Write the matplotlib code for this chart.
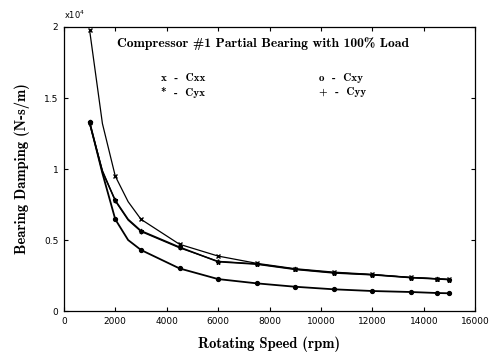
import numpy as np
import matplotlib
matplotlib.use("Agg")
import matplotlib.pyplot as plt

# rotating speed (rpm) and damping (x10^4 N-s/m)
speed = [1000, 1500, 2000, 2500, 3000, 4500, 6000, 7500, 9000, 10500, 12000, 13500, 14500, 15000]
cxx = [1.98, 1.32, 0.95, 0.77, 0.646, 0.47, 0.387, 0.336, 0.298, 0.274, 0.258, 0.237, 0.228, 0.223]
cxy = [1.33, 0.97, 0.646, 0.50, 0.43, 0.30, 0.225, 0.195, 0.171, 0.153, 0.141, 0.134, 0.127, 0.125]
cyx = [1.33, 0.98, 0.78, 0.646, 0.565, 0.45, 0.347, 0.33, 0.293, 0.268, 0.255, 0.235, 0.226, 0.221]
cyy = [1.32, 0.99, 0.775, 0.64, 0.56, 0.445, 0.35, 0.332, 0.295, 0.27, 0.256, 0.236, 0.227, 0.222]
mark_idx = [0, 2, 4, 5, 6, 7, 8, 9, 10, 11, 12, 13]

serif = {"family": "cmb10"}

fig = plt.figure(figsize=(4.95, 3.6), dpi=100)
ax = fig.add_axes([0.129, 0.136, 0.831, 0.789])

ax.plot(speed, cxx, color="black", lw=0.9, marker="x", ms=3, markevery=mark_idx)
ax.plot(speed, cxy, color="black", lw=1.3, marker="o", ms=2.8, markevery=mark_idx)
ax.plot(speed, cyx, color="black", lw=1.1, marker="*", ms=3.5, markevery=mark_idx)
ax.plot(speed, cyy, color="black", lw=0.9, marker="+", ms=3.5, markevery=mark_idx)

ax.set_xlim(0, 16000)
ax.set_ylim(0, 2)
ax.set_xticks(np.arange(0, 16001, 2000))
ax.set_yticks([0, 0.5, 1, 1.5, 2])
ax.set_yticklabels(["0", "0.5", "1", "1.5", "2"])
ax.tick_params(direction="in", top=True, right=True, labelsize=6.5, length=3, pad=4)
for s in ax.spines.values():
    s.set_linewidth(0.9)

ax.text(0, 1.02, r"x10$^4$", transform=ax.transAxes, fontsize=6, ha="left", va="bottom")

ax.text(0.485, 0.94, "Compressor #1 Partial Bearing with 100% Load", transform=ax.transAxes,
        ha="center", va="center", fontsize=9.8, **serif)
ax.text(0.235, 0.82, "x  -  Cxx", transform=ax.transAxes, fontsize=8, va="center", **serif)
ax.text(0.235, 0.77, "*  -  Cyx", transform=ax.transAxes, fontsize=8, va="center", **serif)
ax.text(0.62, 0.82, "o  -  Cxy", transform=ax.transAxes, fontsize=8, va="center", **serif)
ax.text(0.62, 0.77, "+  -  Cyy", transform=ax.transAxes, fontsize=8, va="center", **serif)

ax.set_xlabel("Rotating Speed (rpm)", fontsize=10.5, labelpad=8, **serif)
ax.set_ylabel("Bearing Damping (N-s/m)", fontsize=10.5, labelpad=10, **serif)

fig.savefig("out.png", dpi=100)
